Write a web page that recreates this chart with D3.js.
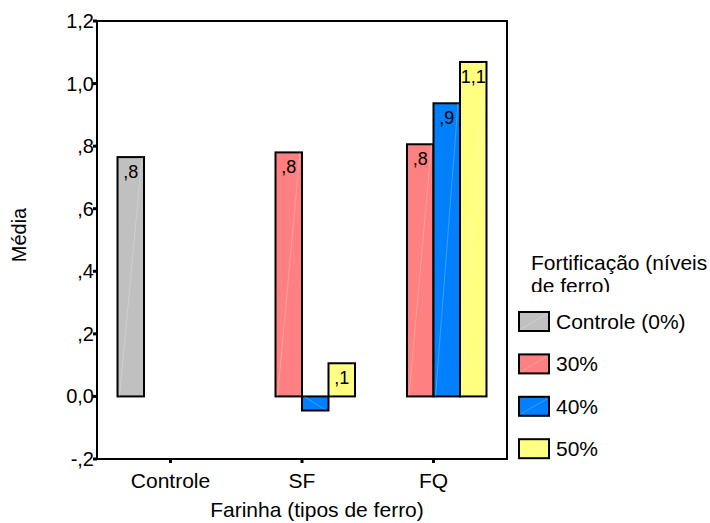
<!DOCTYPE html>
<html>
<head>
<meta charset="utf-8">
<script src="https://cdn.jsdelivr.net/npm/d3@7/dist/d3.min.js"></script>
<style>
  body { margin: 0; background: #fff; }
  text { font-family: "Liberation Sans", Arial, sans-serif; fill: #000; }
</style>
</head>
<body>
<div id="viz"></div>
<script>
// data
var categories = ['Controle', 'SF', 'FQ'];
var seriesNames = ['Controle (0%)', '30%', '40%', '50%'];
var controleVals = [0.765, null, null];
var p30Vals = [null, 0.78, 0.806];
var p40Vals = [null, -0.045, 0.937];
var p50Vals = [null, 0.106, 1.069];
var yTicks = [-0.2, 0, 0.2, 0.4, 0.6, 0.8, 1.0, 1.2];
var yTickLabels = ['-,2', '0,0', ',2', ',4', ',6', ',8', '1,0', '1,2'];

var colors = ['#c0c0c0', '#ff8080', '#0080ff', '#ffff80'];
var allVals = [controleVals, p30Vals, p40Vals, p50Vals];

var svg = d3.select('#viz').append('svg')
            .attr('width', 710)
            .attr('height', 523);

var plotL = 97, plotR = 507, plotT = 21, plotB = 459;

var y = d3.scaleLinear().domain([-0.2, 1.2]).range([plotB, plotT]);
var x = d3.scalePoint().domain(categories).range([plotL, plotR]).padding(0.559);
var xs = d3.scaleBand().domain(seriesNames).range([-53, 53]);

// spss style number: 0.8 -> ,8
var spss = function(v) {
	var s = d3.format('.1f')(v).replace('.', ',');
	return s.replace(/^(-?)0,/, '$1,');
}

var bars = [];
seriesNames.forEach(function(s, i) {
	categories.forEach(function(c, j) {
		var v = allVals[i][j];
		if (v !== null) bars.push({ series: s, cat: c, value: v, color: colors[i] });
	});
});

var g = svg.append('g');
g.selectAll('rect.bar').data(bars).enter().append('rect')
  .attr('class', 'bar')
  .attr('x', d => x(d.cat) + xs(d.series))
  .attr('width', xs.bandwidth())
  .attr('y', d => Math.min(y(0), y(d.value)))
  .attr('height', d => Math.abs(y(d.value) - y(0)))
  .style('fill', d => d.color)
  .style('stroke', '#000')
  .style('stroke-width', 2);

// faint diagonal seen inside each bar
g.selectAll('line.diag').data(bars).enter().append('line')
  .attr('x1', d => x(d.cat) + xs(d.series) + 2)
  .attr('y1', d => y(0))
  .attr('x2', d => x(d.cat) + xs(d.series) + xs.bandwidth() - 2)
  .attr('y2', d => y(d.value))
  .style('stroke', '#fff')
  .style('stroke-opacity', 0.3)
  .style('stroke-width', 0.8);

g.selectAll('text.val').data(bars.filter(d => Math.abs(y(d.value) - y(0)) > 25)).enter().append('text')
  .attr('x', d => x(d.cat) + xs(d.series) + xs.bandwidth() / 2)
  .attr('y', d => y(d.value) + 21)
  .attr('text-anchor', 'middle')
  .style('font-size', '18px')
  .text(d => spss(d.value));

// frame
svg.append('rect')
   .attr('x', plotL).attr('y', plotT)
   .attr('width', plotR - plotL).attr('height', plotB - plotT)
   .style('fill', 'none')
   .style('stroke', '#000')
   .style('stroke-width', 2);

// y ticks
yTicks.forEach(function(t, i) {
	svg.append('rect')
	   .attr('x', plotL - 4).attr('y', y(t) - 1.5)
	   .attr('width', 4).attr('height', 3)
	   .style('fill', '#000');
	svg.append('text')
	   .attr('x', plotL - 3)
	   .attr('y', y(t) + 7)
	   .attr('text-anchor', 'end')
	   .style('font-size', '20px')
	   .text(yTickLabels[i]);
});

// x ticks
categories.forEach(function(c) {
	svg.append('rect')
	   .attr('x', x(c) - 1.5).attr('y', plotB)
	   .attr('width', 3).attr('height', 4)
	   .style('fill', '#000');
	svg.append('text')
	   .attr('x', x(c))
	   .attr('y', 488)
	   .attr('text-anchor', 'middle')
	   .style('font-size', '21px')
	   .text(c);
});

svg.append('text')
   .attr('x', 317).attr('y', 517)
   .attr('text-anchor', 'middle')
   .style('font-size', '21px')
   .text('Farinha (tipos de ferro)');

svg.append('text')
   .attr('transform', 'translate(26,235) rotate(-90)')
   .attr('text-anchor', 'middle')
   .style('font-size', '20px')
   .text('Média');

// legend
svg.append('clipPath').attr('id', 'legclip')
   .append('rect').attr('x', 510).attr('y', 240).attr('width', 200).attr('height', 52);
var title = svg.append('text')
   .attr('clip-path', 'url(#legclip)')
   .style('font-size', '21px');
title.append('tspan').attr('x', 531).attr('y', 270).text('Fortificação (níveis');
title.append('tspan').attr('x', 531).attr('y', 293).text('de ferro)');

var leg = svg.selectAll('g.leg').data(seriesNames).enter().append('g')
   .attr('transform', (d, i) => 'translate(519,' + (312 + i * 42.4) + ')');
leg.append('rect')
   .attr('width', 30).attr('height', 19)
   .style('fill', (d, i) => colors[i])
   .style('stroke', '#000')
   .style('stroke-width', 2);
leg.append('line')
   .attr('x1', 2).attr('y1', 17).attr('x2', 28).attr('y2', 2)
   .style('stroke', '#fff').style('stroke-opacity', 0.3).style('stroke-width', 0.8);
leg.append('text')
   .attr('x', 37).attr('y', 17)
   .style('font-size', '21px')
   .text(d => d);
</script>
</body>
</html>
